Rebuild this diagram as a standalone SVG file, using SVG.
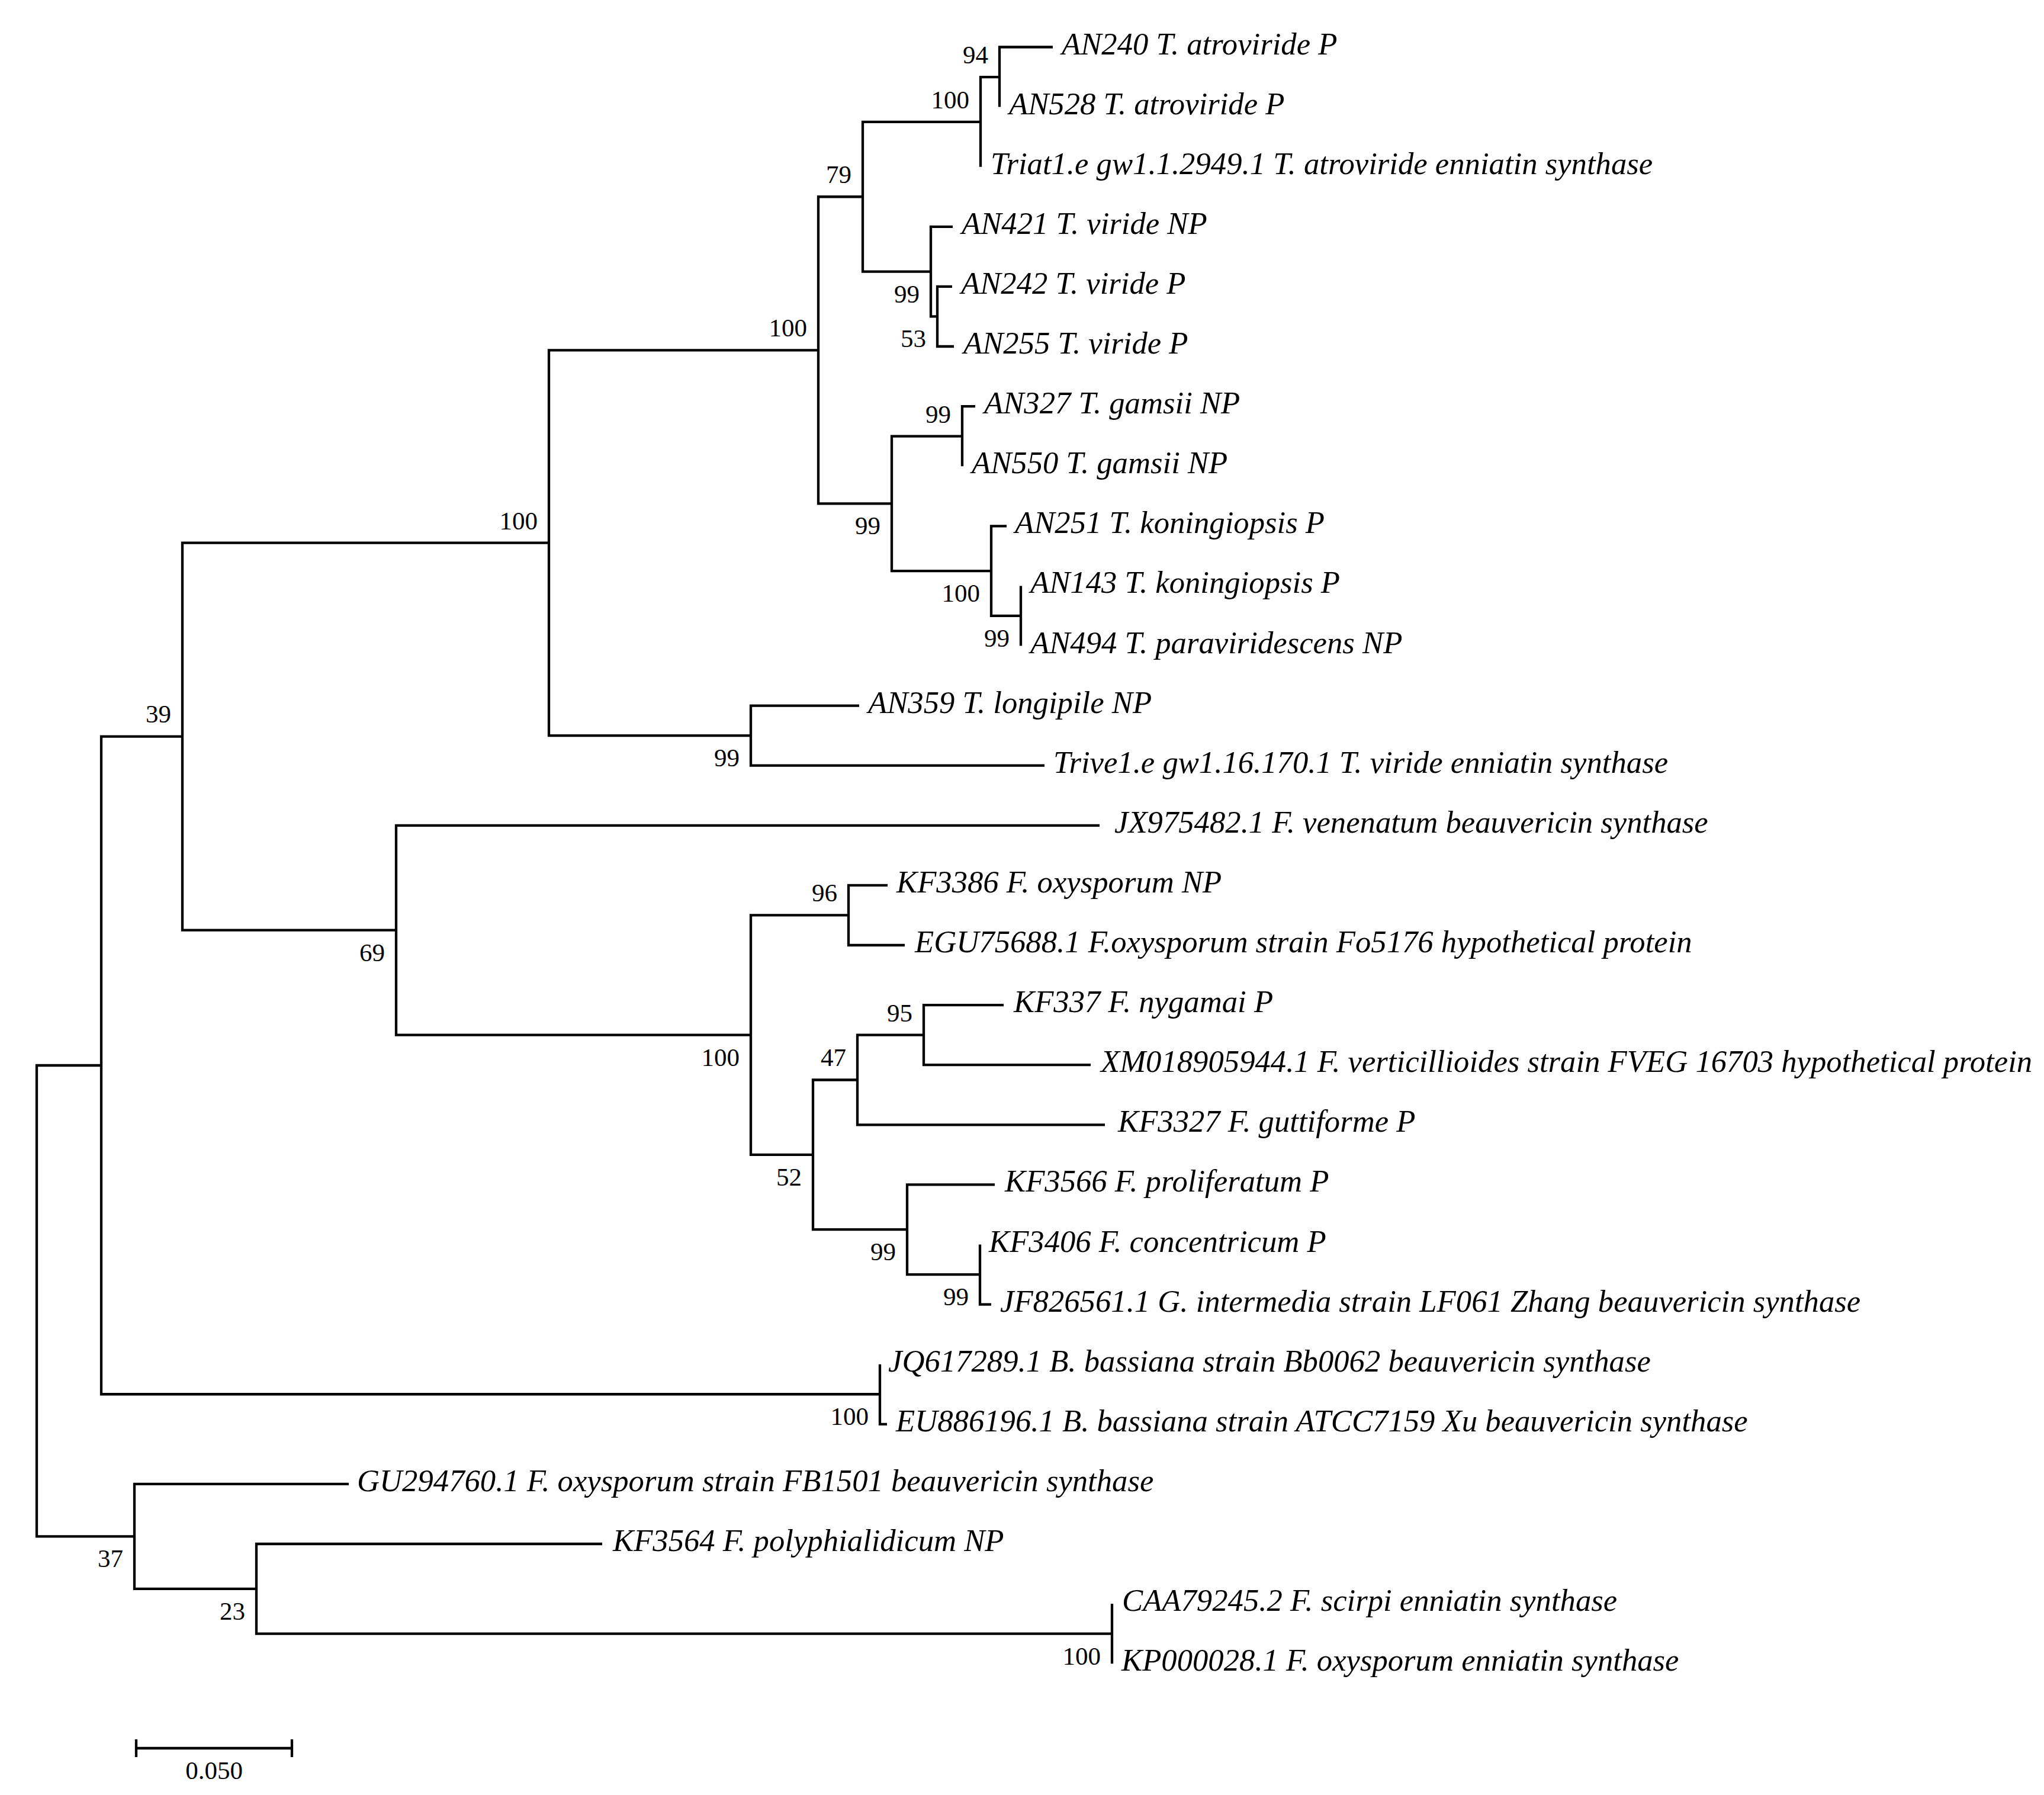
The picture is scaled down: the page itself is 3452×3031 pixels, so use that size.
<svg xmlns="http://www.w3.org/2000/svg" width="3452" height="3031" viewBox="0 0 3452 3031">
<style>
.br{fill:none;stroke:#000;stroke-width:4.3;stroke-linejoin:miter;stroke-linecap:butt}
.tx{font-family:"Liberation Serif","Times New Roman",serif;font-style:italic;font-size:52.7px;fill:#000}
.bs{font-family:"Liberation Serif","Times New Roman",serif;font-size:43px;fill:#000;text-anchor:end}
.sc{font-family:"Liberation Serif","Times New Roman",serif;font-size:43px;fill:#000;text-anchor:middle}
</style>
<rect width="3452" height="3031" fill="#fff"/>
<g id="branches" class="br">
<path d="M171,1799 H62 V2594.35 H227"/>
<path d="M308,1243.7 H171 V2354.25 H1486"/>
<path d="M927,916.7 H308 V1570.7 H669"/>
<path d="M1382,591.3 H927 V1242.15 H1268"/>
<path d="M1451,1191.6 H1268 V1292.7 H1764"/>
<path d="M1457,332.25 H1382 V850.4 H1506"/>
<path d="M1656,205.9 H1457 V458.6 H1572"/>
<path d="M1688,130.05 H1656 V281.7"/>
<path d="M1778,79.5 H1688 V180.6"/>
<path d="M1609,382.8 H1572 V534.45 H1583"/>
<path d="M1608,483.9 H1583 V585 H1611"/>
<path d="M1625,736.65 H1506 V964.1 H1674"/>
<path d="M1647,686.1 H1625 V787.2"/>
<path d="M1700,888.3 H1674 V1039.95 H1724"/>
<path d="M1724,989.4 V1090.5"/>
<path d="M1857,1393.8 H669 V1747.65 H1268"/>
<path d="M1433,1545.45 H1268 V1949.85 H1373"/>
<path d="M1499,1494.9 H1433 V1596 H1528"/>
<path d="M1448,1823.5 H1373 V2076.2 H1532"/>
<path d="M1560,1747.65 H1448 V1899.3 H1866"/>
<path d="M1695,1697.1 H1560 V1798.2 H1842"/>
<path d="M1680,2000.4 H1532 V2152.05 H1655"/>
<path d="M1655,2101.5 V2202.6 H1674"/>
<path d="M1486,2303.7 V2404.8 H1498"/>
<path d="M589,2505.9 H227 V2682.8 H433"/>
<path d="M1017,2607 H433 V2758.65 H1878"/>
<path d="M1878,2708.1 V2809.2"/>
</g>
<g id="taxa" class="tx">
<g id="t-AN240"><text x="1793" y="91.5">AN240 T. atroviride P</text></g>
<g id="t-AN528"><text x="1704" y="192.6">AN528 T. atroviride P</text></g>
<g id="t-Triat"><text x="1673" y="293.7">Triat1.e gw1.1.2949.1 T. atroviride enniatin synthase</text></g>
<g id="t-AN421"><text x="1624" y="394.8">AN421 T. viride NP</text></g>
<g id="t-AN242"><text x="1623" y="495.9">AN242 T. viride P</text></g>
<g id="t-AN255"><text x="1627" y="597">AN255 T. viride P</text></g>
<g id="t-AN327"><text x="1662" y="698.1">AN327 T. gamsii NP</text></g>
<g id="t-AN550"><text x="1641" y="799.2">AN550 T. gamsii NP</text></g>
<g id="t-AN251"><text x="1714" y="900.3">AN251 T. koningiopsis P</text></g>
<g id="t-AN143"><text x="1740" y="1001.4">AN143 T. koningiopsis P</text></g>
<g id="t-AN494"><text x="1740" y="1102.5">AN494 T. paraviridescens NP</text></g>
<g id="t-AN359"><text x="1466" y="1203.6">AN359 T. longipile NP</text></g>
<g id="t-Trive"><text x="1779" y="1304.7">Trive1.e gw1.16.170.1 T. viride enniatin synthase</text></g>
<g id="t-JX975482"><text x="1882" y="1405.8">JX975482.1 F. venenatum beauvericin synthase</text></g>
<g id="t-KF3386"><text x="1514" y="1506.9">KF3386 F. oxysporum NP</text></g>
<g id="t-EGU75688"><text x="1545" y="1608">EGU75688.1 F.oxysporum strain Fo5176 hypothetical protein</text></g>
<g id="t-KF337"><text x="1712" y="1709.1">KF337 F. nygamai P</text></g>
<g id="t-XM018905944"><text x="1859" y="1810.2">XM018905944.1 F. verticillioides strain FVEG 16703 hypothetical protein</text></g>
<g id="t-KF3327"><text x="1888" y="1911.3">KF3327 F. guttiforme P</text></g>
<g id="t-KF3566"><text x="1697" y="2012.4">KF3566 F. proliferatum P</text></g>
<g id="t-KF3406"><text x="1670" y="2113.5">KF3406 F. concentricum P</text></g>
<g id="t-JF826561"><text x="1689" y="2214.6">JF826561.1 G. intermedia strain LF061 Zhang beauvericin synthase</text></g>
<g id="t-JQ617289"><text x="1500" y="2315.7">JQ617289.1 B. bassiana strain Bb0062 beauvericin synthase</text></g>
<g id="t-EU886196"><text x="1513" y="2416.8">EU886196.1 B. bassiana strain ATCC7159 Xu beauvericin synthase</text></g>
<g id="t-GU294760"><text x="603" y="2517.9">GU294760.1 F. oxysporum strain FB1501 beauvericin synthase</text></g>
<g id="t-KF3564"><text x="1035" y="2619">KF3564 F. polyphialidicum NP</text></g>
<g id="t-CAA79245"><text x="1895" y="2720.1">CAA79245.2 F. scirpi enniatin synthase</text></g>
<g id="t-KP000028"><text x="1894" y="2821.2">KP000028.1 F. oxysporum enniatin synthase</text></g>
</g>
<g id="bootstrap" class="bs">
<g id="n94"><text x="1669" y="107">94</text></g>
<g id="n100c"><text x="1637" y="183">100</text></g>
<g id="n79"><text x="1438" y="309">79</text></g>
<g id="n99c"><text x="1553" y="511">99</text></g>
<g id="n53"><text x="1564" y="586">53</text></g>
<g id="n99d"><text x="1606" y="714">99</text></g>
<g id="n99b"><text x="1487" y="902">99</text></g>
<g id="n100d"><text x="1655" y="1016">100</text></g>
<g id="n99e"><text x="1705" y="1092">99</text></g>
<g id="n100b"><text x="1363" y="568">100</text></g>
<g id="n99l"><text x="1249" y="1294">99</text></g>
<g id="n100a"><text x="908" y="894">100</text></g>
<g id="n39"><text x="289" y="1220">39</text></g>
<g id="n69"><text x="650" y="1623">69</text></g>
<g id="n96"><text x="1414" y="1522">96</text></g>
<g id="n100e"><text x="1249" y="1800">100</text></g>
<g id="n95"><text x="1541" y="1725">95</text></g>
<g id="n47"><text x="1429" y="1800">47</text></g>
<g id="n52"><text x="1354" y="2002">52</text></g>
<g id="n99f"><text x="1513" y="2128">99</text></g>
<g id="n99g"><text x="1636" y="2204">99</text></g>
<g id="n100f"><text x="1467" y="2406">100</text></g>
<g id="n37"><text x="208" y="2646">37</text></g>
<g id="n23"><text x="414" y="2735">23</text></g>
<g id="n100g"><text x="1859" y="2811">100</text></g>
</g>
<g id="scalebar">
<path class="br" d="M230,2952 H493 M230,2937 V2967 M493,2937 V2967"/>
<text class="sc" x="361.5" y="3004">0.050</text>
</g>
</svg>
